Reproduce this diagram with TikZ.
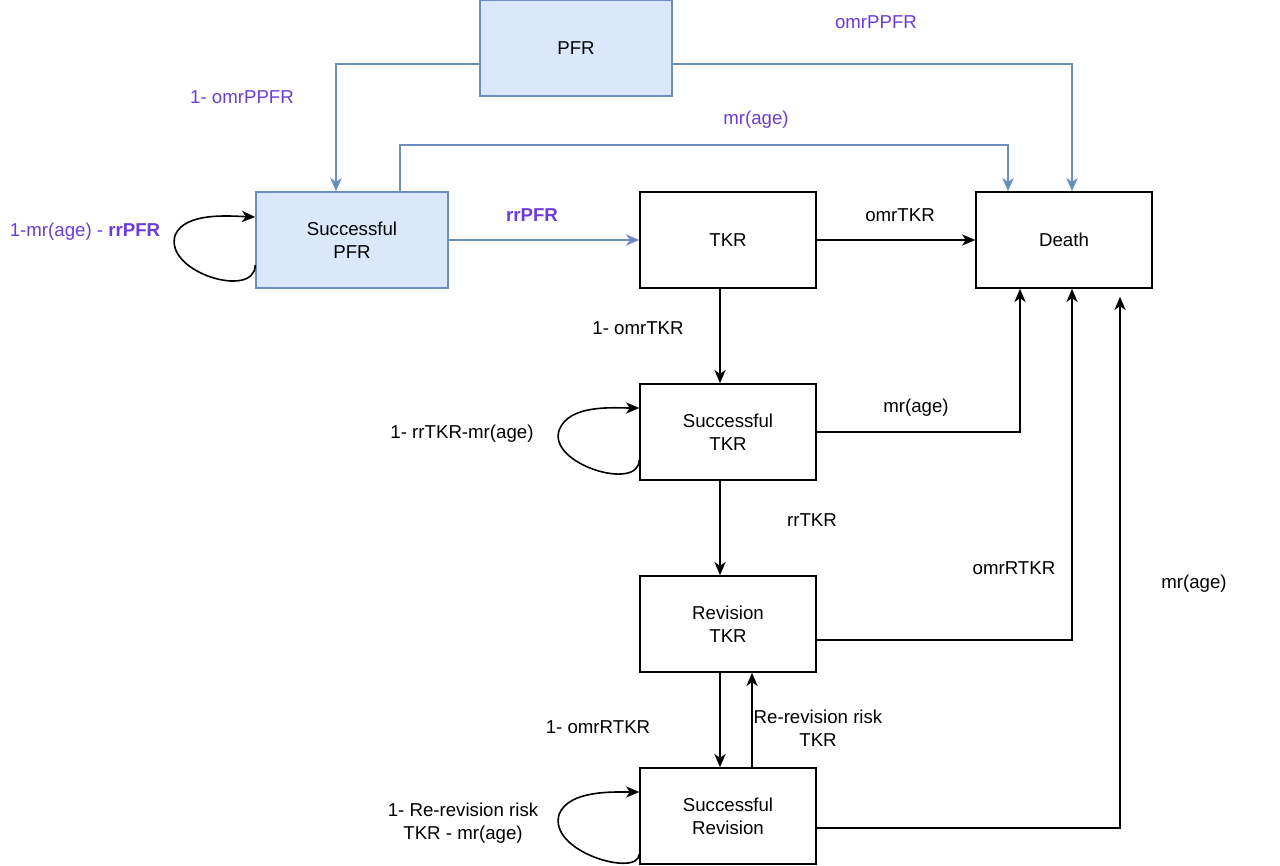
\documentclass[tikz,border=0pt]{standalone}
\usepackage{fontspec}
\setmainfont{Liberation Sans}
\usetikzlibrary{arrows.meta,calc}
\definecolor{bfill}{HTML}{DAE8FC}
\definecolor{bline}{HTML}{6C8EBF}
\definecolor{purp}{RGB}{108,60,215}
\tikzset{
  box/.style={draw=black,line width=1.2pt,minimum width=132pt,minimum height=72pt,inner sep=0pt,align=center,font=\fontsize{14}{17}\selectfont},
  bluebox/.style={box,draw=bline,fill=bfill,minimum width=144pt},
  tip/.style={-{Stealth[length=10pt,width=8.5pt,inset=3pt]}},
  blk/.style={tip,line width=1.2pt,draw=black},
  blu/.style={tip,line width=1.2pt,draw=bline},
  lbl/.style={font=\fontsize{14}{17}\selectfont,align=center,inner sep=0pt},
  plbl/.style={lbl,text=purp}
}
\begin{document}
\begin{tikzpicture}[x=0.75pt,y=-0.75pt]
\useasboundingbox (0,0) rectangle (1280,866);
% nodes
\node[bluebox] (pfr) at (576,48) {PFR};
\node[bluebox] (spfr) at (352,240) {Successful\\PFR};
\node[box] (tkr) at (728,240) {TKR};
\node[box] (death) at (1064,240) {Death};
\node[box] (stkr) at (728,432) {Successful\\TKR};
\node[box] (rtkr) at (728,624) {Revision\\TKR};
\node[box] (srev) at (728,816) {Successful\\Revision};
% bend coordinates
\coordinate (a1) at (336,64);
\coordinate (a2) at (1072,64);
\coordinate (a3) at (400,145);
\coordinate (a4) at (1008,145);
\coordinate (b1) at (720,0);
\coordinate (b2) at (1020,0);
\coordinate (b3) at (1072,640);
\coordinate (b4) at (1120,828);
\coordinate (b5) at (752,0);
% blue connectors
\draw[blu] (pfr.west |- a1) -| (spfr.north -| a1);
\draw[blu] (pfr.east |- a2) -| (death.north -| a2);
\draw[blu] (spfr.north -| a3) -- (a3) -| (death.north -| a4);
\draw[blu] (spfr.east) -- (tkr.west);
% black connectors
\draw[blk] (tkr.east) -- (death.west);
\draw[blk] (tkr.south -| b1) -- (stkr.north -| b1);
\draw[blk] (stkr.east) -| (death.south -| b2);
\draw[blk] (stkr.south -| b1) -- (rtkr.north -| b1);
\draw[blk] (rtkr.east |- b3) -| (death.south -| b3);
\draw[blk] (rtkr.south -| b1) -- (srev.north -| b1);
\draw[blk] (srev.north -| b5) -- (rtkr.south -| b5);
\draw[blk] (srev.east |- b4) -| ([yshift=-6pt]death.south -| b4);
% self loops
\draw[blk] ($(spfr.west)+(0,25)$) .. controls ($(spfr.west)+(0,60)$) and ($(spfr.west)+(-92,32)$) .. ($(spfr.west)+(-80,-5)$)
  .. controls ($(spfr.west)+(-70,-28)$) and ($(spfr.west)+(-26,-24)$) .. ($(spfr.west)+(0,-23)$);
\draw[blk] ($(stkr.west)+(0,28)$) .. controls ($(stkr.west)+(0,60)$) and ($(stkr.west)+(-92,32)$) .. ($(stkr.west)+(-80,-2)$)
  .. controls ($(stkr.west)+(-70,-28)$) and ($(stkr.west)+(-26,-24)$) .. ($(stkr.west)+(0,-24)$);
\draw[blk] ($(srev.west)+(0,38)$) .. controls ($(srev.west)+(0,62)$) and ($(srev.west)+(-92,36)$) .. ($(srev.west)+(-80,-2)$)
  .. controls ($(srev.west)+(-70,-26)$) and ($(srev.west)+(-26,-24)$) .. ($(srev.west)+(0,-24)$);
% labels
\node[plbl] (l1) at (242,97) {1- omrPPFR};
\node[plbl] (l2) at (876,22) {omrPPFR};
\node[plbl] (l3) at (756,120) {mr(age)};
\node[plbl] (l4) at (85,232) {1-mr(age) - \textbf{rrPFR}};
\node[plbl] (l5) at (532,215) {\textbf{rrPFR}};
\node[lbl] (l6) at (900,215) {omrTKR};
\node[lbl] (l7) at (638,328) {1- omrTKR};
\node[lbl] (l8) at (462,434) {1- rrTKR-mr(age)};
\node[lbl] (l9) at (916,408) {mr(age)};
\node[lbl] (l10) at (812,520) {rrTKR};
\node[lbl] (l11) at (1014,568) {omrRTKR};
\node[lbl] (l12) at (1194,584) {mr(age)};
\node[lbl] (l13) at (598,727) {1- omrRTKR};
\node[lbl] (l14) at (818,728) {Re-revision risk\\TKR};
\node[lbl] (l15) at (463,823) {1- Re-revision risk\\TKR - mr(age)};
\end{tikzpicture}
\end{document}
